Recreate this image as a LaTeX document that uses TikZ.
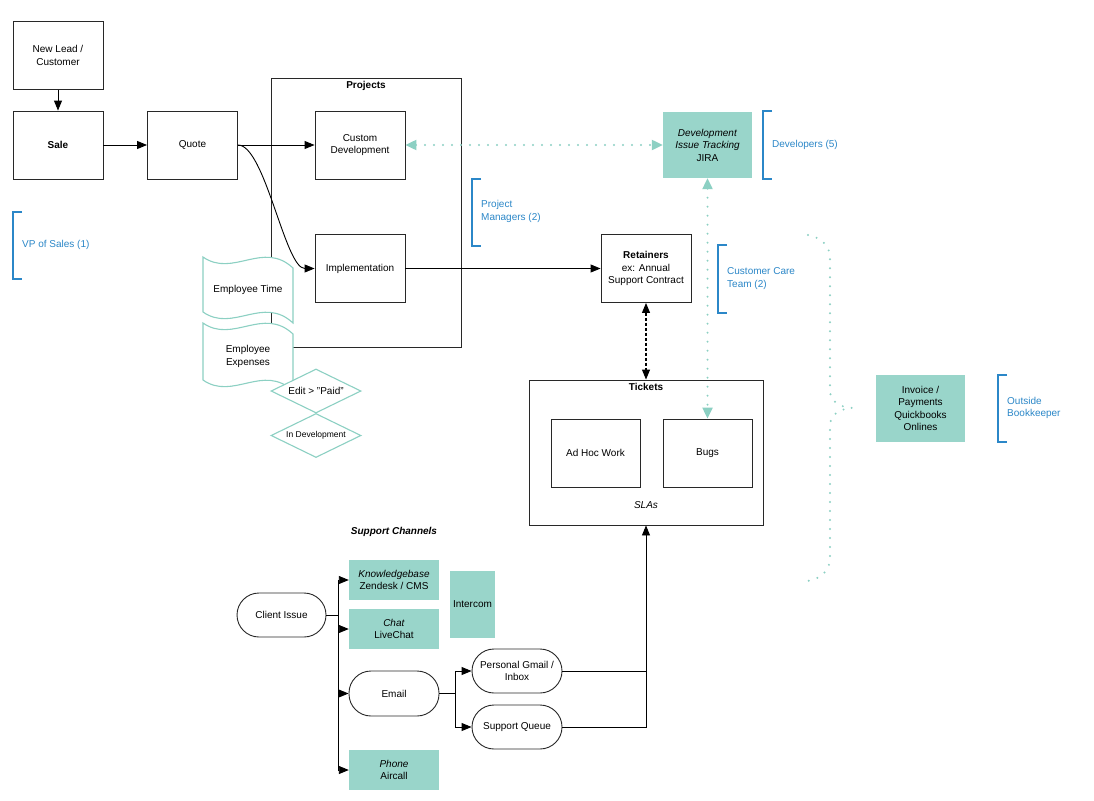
\documentclass[tikz,border=0pt]{standalone}
\usepackage{fontspec}
\setmainfont{Liberation Sans}
\usetikzlibrary{arrows.meta,shapes.geometric,calc}
\definecolor{tealfill}{RGB}{153,213,202}
\definecolor{tealline}{RGB}{140,208,195}
\definecolor{lblue}{RGB}{43,135,200}
\definecolor{boxline}{RGB}{40,40,40}
\newcommand\fsA{\fontsize{10}{12.5}\selectfont}
\newcommand\fsB{\fontsize{10}{12.5}\selectfont}
\newcommand\fsC{\fontsize{8.5}{11}\selectfont}
\begin{document}
\begin{tikzpicture}[x=1pt,y=-1pt,
  box/.style={draw=boxline, line width=0.9pt, minimum width=90pt, minimum height=68pt, align=center, inner sep=0pt, font=\fsA},
  frame/.style={draw=boxline, line width=0.9pt, inner sep=0pt},
  tealbox/.style={fill=tealfill, minimum width=90pt, minimum height=67pt, align=center, inner sep=0pt, font=\fsA},
  pill/.style={draw=boxline, line width=0.9pt, rounded corners=22pt, minimum width=90pt, minimum height=45pt, align=center, inner sep=0pt, font=\fsA},
  lbl/.style={text=lblue, font=\fsB, align=left, anchor=west, inner sep=0pt},
  bracket/.style={draw=lblue, line width=1.2pt},
  arr/.style={draw=black, line width=0.9pt, -{Triangle[length=10pt,width=8pt]}},
  conn/.style={draw=black, line width=0.9pt},
  tdot/.style={draw=tealline, line width=2.2pt, line cap=round, dash pattern=on 0pt off 9pt},
  ttip/.style={{Triangle[length=11pt,width=10pt]}-{Triangle[length=11pt,width=10pt]}},
  tapeline/.style={draw=tealline, fill=white, line width=1.1pt},
  dia/.style={diamond, aspect=2.05, draw=tealline, fill=white, line width=1.1pt, minimum width=90pt, minimum height=44pt, inner sep=0pt, align=center}
]
\useasboundingbox (0,0) rectangle (1094,800);
\fill[white] (0,0) rectangle (1094,800);

% Projects container
\node[frame, minimum width=190pt, minimum height=269pt] (proj) at (366,212.5) {};
\node[font=\bfseries\fsA, inner sep=0pt] (projtitle) at ([yshift=-8pt]proj.north) {Projects};

% top row
\node[box] (lead) at (58,55.5) {New Lead /\\Customer};
\node[box, font=\bfseries\fsA] (sale) at (58,145) {Sale};
\node[box] (quote) at (192.5,145) {Quote};
\node[box] (cdev) at (360,145) {Custom\\Development};
\node[box] (impl) at (360,268.5) {Implementation};
\node[box] (ret) at (646,268.5) {\textbf{Retainers}\\ex: Annual\\Support Contract};
\node[tealbox, minimum width=89pt, minimum height=66pt] (jira) at (707.5,145) {\textit{Development}\\\textit{Issue Tracking}\\JIRA};

% Tickets
\node[frame, minimum width=234pt, minimum height=145pt] (tickets) at (646,452.5) {};
\node[font=\bfseries\fsA, inner sep=0pt] (tickettitle) at ([yshift=-7.5pt]tickets.north) {Tickets};
\node[font=\itshape\fsA, inner sep=0pt] (slas) at ([yshift=20pt]tickets.south) {SLAs};
\node[box, minimum width=89pt] (adhoc) at (595.5,453) {Ad Hoc Work};
\node[box, minimum width=89pt] (bugs) at (707.5,453) {Bugs};

\node[tealbox, minimum width=89pt] (inv) at (920.5,408.5) {Invoice /\\Payments\\Quickbooks\\Onlines};

% connectors top
\draw[arr] (lead) -- (sale);
\draw[arr] (sale) -- (quote);
\draw[arr] (quote.east) -- (cdev.west);
\draw[arr] (quote.east) .. controls (265,145) and (285,268.5) .. (impl.west);
\draw[arr] (impl.east) -- (ret.west);
\draw[line width=1.1pt, dash pattern=on 3pt off 2pt, {Triangle[length=10pt,width=8pt]}-{Triangle[length=10pt,width=8pt]}] (ret.south) -- (tickets.north);
\draw[tdot, ttip] (cdev.east) -- (jira.west);
\draw[tdot, ttip] (jira.south) -- (bugs.north);

% brace
\coordinate (bracetop) at (808,235);
\coordinate (bracetip) at (852,408);
\coordinate (bracebot) at (808,581);
\draw[tdot] (bracetop) .. controls (822,238) and (830,246) .. (830,258) -- (830,390)
  .. controls (830,402) and (840,407) .. (bracetip)
  .. controls (840,409) and (830,414) .. (830,426) -- (830,558)
  .. controls (830,570) and (822,578) .. (bracebot);

% brackets and labels
\draw[bracket] (22,212) -- (13,212) -- (13,279) -- (22,279);
\node[lbl] (vp) at (22,244.5) {VP of Sales (1)};
\draw[bracket] (481,179) -- (472,179) -- (472,246) -- (481,246);
\node[lbl] (pm) at (481,211.5) {Project\\Managers (2)};
\draw[bracket] (772,111) -- (763,111) -- (763,179) -- (772,179);
\node[lbl] (devs) at (772,144.5) {Developers (5)};
\draw[bracket] (727,245) -- (718,245) -- (718,313) -- (727,313);
\node[lbl] (cc) at (727,278.5) {Customer Care\\Team (2)};
\draw[bracket] (1007,375) -- (998,375) -- (998,442) -- (1007,442);
\node[lbl] (book) at (1007,408) {Outside\\Bookkeeper};

% tape shapes
\begin{scope}[shift={(203,257)}]
  \draw[tapeline] (0,0) .. controls (30,21) and (60,-17) .. (90,11) -- (90,66)
    .. controls (60,38) and (30,76) .. (0,55) -- cycle;
\end{scope}
\node[font=\fsA, inner sep=0pt] (etime) at (248,290) {Employee Time};
\begin{scope}[shift={(203,323)}]
  \draw[tapeline] (0,0) .. controls (30,21) and (60,-17) .. (90,11) -- (90,68)
    .. controls (60,40) and (30,78) .. (0,57) -- cycle;
\end{scope}
\node[font=\fsA, align=center, inner sep=0pt] (eexp) at (248,356.5) {Employee\\Expenses};

% diamonds
\node[dia, font=\fsA] (paid) at (316,391) {Edit > "Paid"};
\node[dia, font=\fsC] (indev) at (316,435.5) {In Development};

% support channels
\node[font=\bfseries\itshape\fsA, inner sep=0pt] (sc) at (394,532) {Support Channels};
\node[pill, minimum width=89pt, minimum height=44pt] (client) at (281.5,615) {Client Issue};
\node[tealbox, minimum height=40pt] (kb) at (394,580) {\textit{Knowledgebase}\\Zendesk / CMS};
\node[tealbox, minimum height=40pt] (chat) at (394,629) {\textit{Chat}\\LiveChat};
\node[tealbox, minimum width=45pt, minimum height=67pt] (intercom) at (472.5,604.5) {Intercom};
\node[pill] (email) at (394,693.5) {Email};
\node[tealbox, minimum height=40pt] (phone) at (394,770) {\textit{Phone}\\Aircall};
\node[pill, minimum height=44pt] (gmail) at (517,671) {Personal Gmail /\\Inbox};
\node[pill, minimum height=44pt] (queue) at (517,727) {Support Queue};

\coordinate (j1) at (338,615);
\draw[conn] (client.east) -- (j1);
\draw[arr] (j1) |- (kb.west);
\draw[arr] (j1) |- (chat.west);
\draw[arr] (j1) |- (email.west);
\draw[arr] (j1) |- (phone.west);
\coordinate (j2) at (455,693.5);
\draw[conn] (email.east) -- (j2);
\draw[arr] (j2) |- (gmail.west);
\draw[arr] (j2) |- (queue.west);
\draw[conn] (gmail.east) -- (gmail.east -| tickets.south);
\draw[arr] (queue.east) -| (tickets.south);
\end{tikzpicture}
\end{document}
